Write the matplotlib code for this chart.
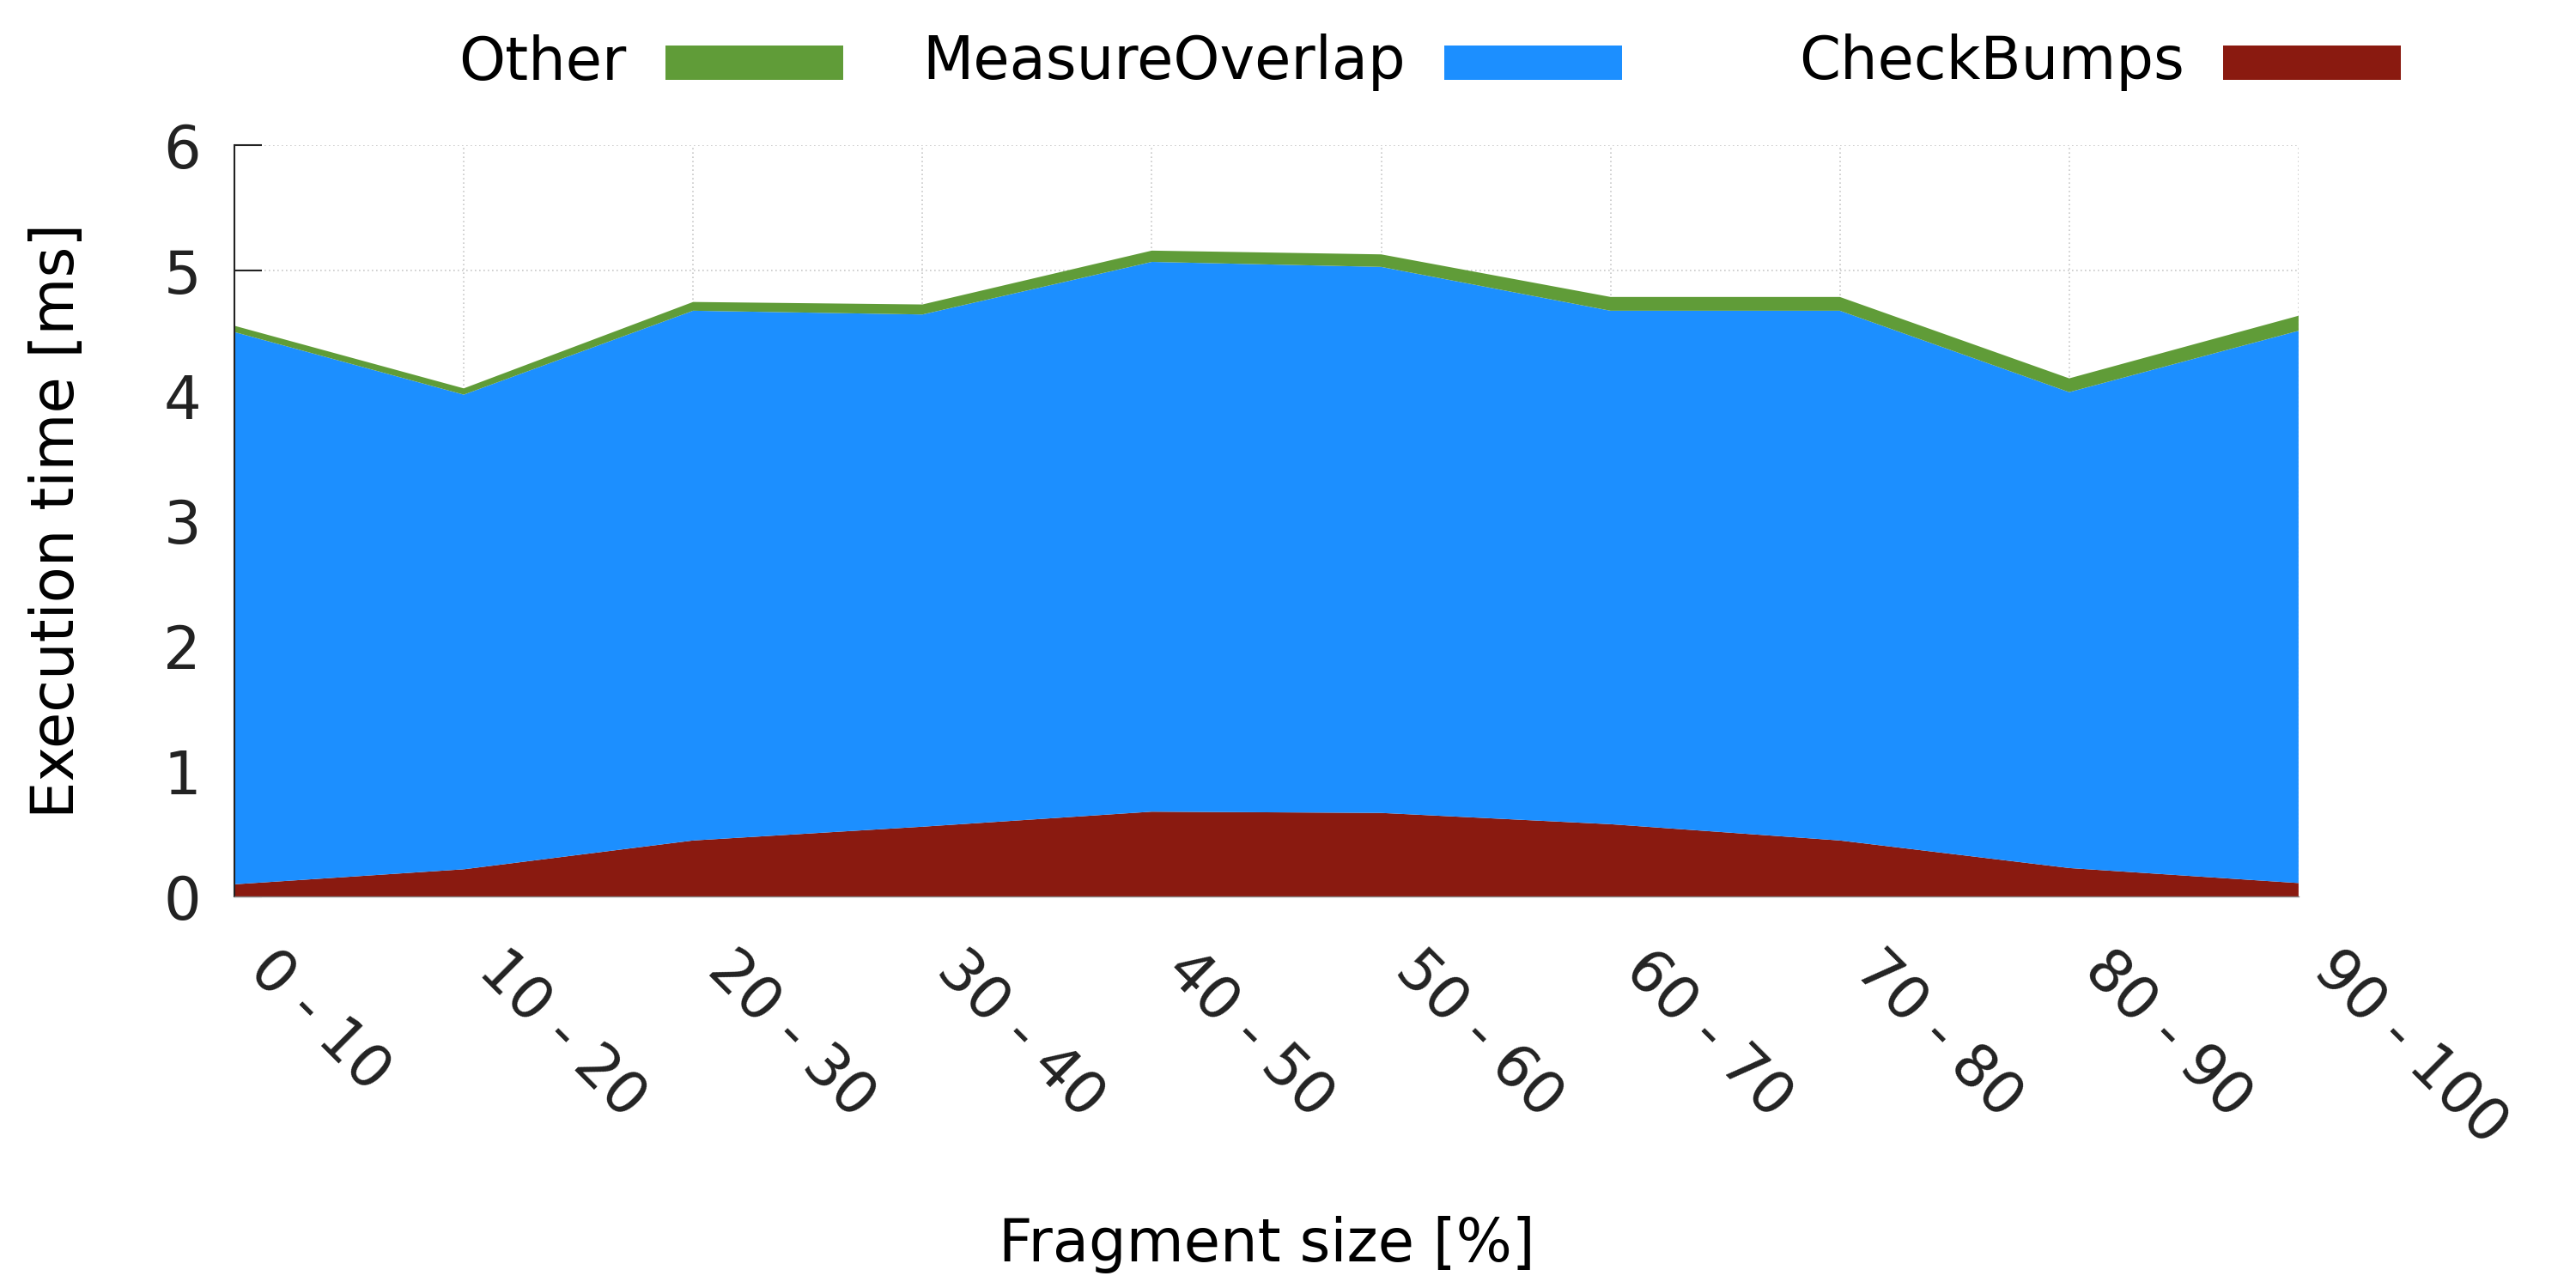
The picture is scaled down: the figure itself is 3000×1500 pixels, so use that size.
import matplotlib
matplotlib.use("Agg")
import matplotlib.pyplot as plt
import matplotlib.transforms as mtransforms
from matplotlib.patches import Rectangle

GREEN = "#609C38"
BLUE = "#1C8FFF"
RED = "#8A1A10"

categories = ["0 - 10", "10 - 20", "20 - 30", "30 - 40", "40 - 50",
              "50 - 60", "60 - 70", "70 - 80", "80 - 90", "90 - 100"]
check_bumps = [0.10, 0.22, 0.45, 0.56, 0.68, 0.67, 0.58, 0.45, 0.23, 0.11]
measure_overlap = [4.41, 3.79, 4.23, 4.09, 4.39, 4.36, 4.10, 4.23, 3.80, 4.41]
other = [0.05, 0.05, 0.07, 0.08, 0.09, 0.10, 0.11, 0.11, 0.11, 0.12]
y_ticks = [0, 1, 2, 3, 4, 5, 6]

FS = 49.5

fig = plt.figure(figsize=(30, 15), dpi=100)
ax = fig.add_axes([0.091, 0.3037, 0.8013, 0.5834])

x = list(range(len(categories)))
ax.stackplot(x, check_bumps, measure_overlap, other,
             colors=[RED, BLUE, GREEN], lw=0, zorder=1)

ax.set_xlim(0, len(categories) - 1)
ax.set_ylim(0, 6)
ax.set_axisbelow(True)
ax.grid(True, ls=(0, (1, 2)), color="#c8c8c8", lw=1.2)

ax.set_yticks(y_ticks)
ax.set_yticklabels([str(v) for v in y_ticks])
ax.tick_params(axis="y", direction="in", length=23, width=1.5,
               labelsize=FS, pad=28, colors="#222222")
ax.set_xticks(x)
ax.set_xticklabels(categories)
ax.tick_params(axis="x", direction="in", length=0, labelsize=FS, pad=0,
               colors="#222222")

# rotated labels hanging from the ticks like gnuplot's rotate by -45
offset = mtransforms.ScaledTranslation(0.52, -0.5, fig.dpi_scale_trans)
for lab in ax.get_xticklabels():
    lab.set_rotation(-45)
    lab.set_ha("left")
    lab.set_va("top")
    lab.set_rotation_mode("anchor")
    lab.set_transform(lab.get_transform() + offset)

for side in ["top", "right"]:
    ax.spines[side].set_visible(False)
ax.spines["left"].set_linewidth(1.5)
ax.spines["left"].set_color("#222222")
ax.spines["bottom"].set_linewidth(1.0)
ax.spines["bottom"].set_color("#888888")

ax.set_ylabel("Execution time [ms]", fontsize=FS)
ax.yaxis.set_label_coords(-0.072, 0.5)
ax.set_xlabel("Fragment size [%]", fontsize=FS)
ax.xaxis.set_label_coords(0.5, -0.425)

# key at the top: text right-justified, colour sample to its right
labels = ["Other", "MeasureOverlap", "CheckBumps"]
key_colors = [GREEN, BLUE, RED]
for i, (label, color) in enumerate(zip(labels, key_colors)):
    right = (730 + i * 907) / 3000
    fig.text(right, 1 - 73 / 1500, label, fontsize=FS, ha="right",
             va="center", color="black")
    fig.add_artist(Rectangle((right + 45 / 3000, 1 - 93 / 1500),
                             207 / 3000, 40 / 1500,
                             transform=fig.transFigure, color=color, lw=0))

fig.savefig("out.png", dpi=100)
